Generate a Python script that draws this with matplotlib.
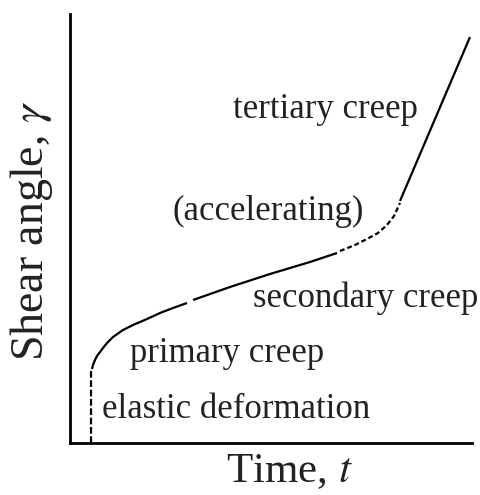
import numpy as np
import matplotlib
matplotlib.use("Agg")
import matplotlib.pyplot as plt

plt.rcParams['font.family'] = ['Liberation Serif', 'DejaVu Serif']
plt.rcParams['mathtext.fontset'] = 'stix'

# curve pieces (time, shear angle)
t_elastic = [21, 21]
g_elastic = [0, 72]

t_primary = [22, 23, 25, 27, 30, 33, 37, 43, 53, 63, 77, 90, 103, 117]
g_primary = [74, 78, 83, 87, 91, 95, 100, 106, 113, 118, 124, 130, 135, 140]

t_secondary = [123, 160, 200, 240, 267]
g_secondary = [143, 156, 169, 181, 190]

t_accel = [270, 285, 297, 308, 317, 324, 330]
g_accel = [192, 198, 204, 210, 218, 227, 240]

t_tertiary = [330, 400]
g_tertiary = [242, 406]

labels = ["tertiary creep", "(accelerating)", "secondary creep",
          "primary creep", "elastic deformation"]
label_t = [163, 102, 183, 60, 32]
label_g = [325, 223, 136, 81, 25]

fig = plt.figure(figsize=(4.8, 4.95), dpi=100)
ax = fig.add_axes([70 / 480, 52 / 495, 402 / 480, 429 / 495])

lw = 1.6
ax.plot(t_elastic, g_elastic, color='black', lw=lw, dashes=(3, 1.2))
ax.plot(t_primary, g_primary, color='black', lw=lw, solid_capstyle='butt')
ax.plot(t_secondary, g_secondary, color='black', lw=lw, solid_capstyle='butt')
ax.plot(t_accel, g_accel, color='black', lw=lw, dashes=(2.2, 1.3))
ax.plot(t_tertiary, g_tertiary, color='black', lw=lw, solid_capstyle='butt')

for s, x, y in zip(labels, label_t, label_g):
    ax.text(x, y, s, fontsize=25, ha='left', va='baseline', color='#222222')

ax.set_xlim(0, 402)
ax.set_ylim(0, 429)
ax.set_xticks([])
ax.set_yticks([])
for side in ['top', 'right']:
    ax.spines[side].set_visible(False)
for side in ['left', 'bottom']:
    ax.spines[side].set_linewidth(2.0)

fig.text(289 / 480, 1 - 482 / 495, "Time, $t$", fontsize=31, ha='center',
         va='baseline', color='#222222')
fig.text(32 / 480, 1 - 231 / 495, "Shear angle, $\\gamma$", fontsize=33,
         ha='center', va='center', rotation=90, color='#222222')

fig.savefig("out.png", dpi=100)
